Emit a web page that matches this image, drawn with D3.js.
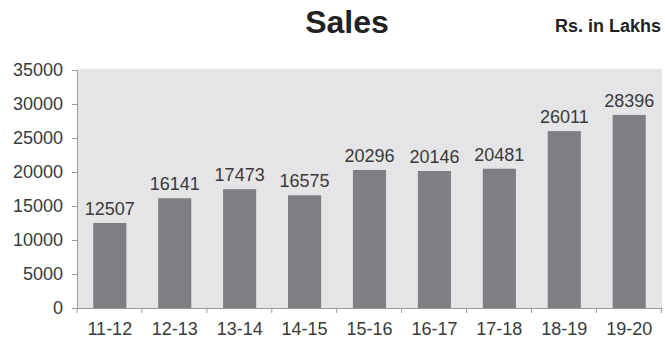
<!DOCTYPE html>
<html>
<head>
<meta charset="utf-8">
<script src="https://cdn.jsdelivr.net/npm/d3@7"></script>
<style>
  body { margin: 0; background: #fff; }
  text { font-family: "Liberation Sans", Arial, sans-serif; }
</style>
</head>
<body>
<svg id="chart" width="665" height="345"></svg>
<script>
// chart data
const years = ["11-12", "12-13", "13-14", "14-15", "15-16", "16-17", "17-18", "18-19", "19-20"];
const sales = [12507, 16141, 17473, 16575, 20296, 20146, 20481, 26011, 28396];
const yTicks = [0, 5000, 10000, 15000, 20000, 25000, 30000, 35000];

const svg = d3.select("#chart");
const margin = { top: 70, right: 3, bottom: 37, left: 77 };
const width = 665 - margin.left - margin.right;
const height = 345 - margin.top - margin.bottom;

const x = d3.scaleBand()
    .domain(years)
    .range([0, width])
    .paddingInner(0.49)
    .paddingOuter(0.25);

const y = d3.scaleLinear()
    .domain([0, 35000])
    .range([height, 0]);

const g = svg.append("g")
    .attr("transform", `translate(${margin.left},${margin.top})`);

// plot background
g.append("rect")
    .attr("x", 0)
    .attr("y", -1)
    .attr("width", width)
    .attr("height", height + 1)
    .attr("fill", "#e5e5e7");

// bars
g.selectAll("rect.bar")
    .data(sales)
    .enter()
    .append("rect")
    .attr("class", "bar")
    .attr("x", (d, i) => x(years[i]))
    .attr("y", d => y(d))
    .attr("width", x.bandwidth())
    .attr("height", d => height - y(d))
    .attr("fill", "#7f7f83");

// value labels
g.selectAll("text.val")
    .data(sales)
    .enter()
    .append("text")
    .attr("class", "val")
    .attr("x", (d, i) => x(years[i]) + x.bandwidth() / 2)
    .attr("y", d => y(d) - 8)
    .attr("text-anchor", "middle")
    .attr("font-size", 18)
    .attr("fill", "#3a3a3a")
    .text(d => d);

// y axis
const yAxis = g.append("g")
    .call(d3.axisLeft(y).tickValues(yTicks).tickSize(5).tickPadding(9).tickFormat(d3.format("d")));
yAxis.selectAll("text").attr("font-size", 18).attr("fill", "#3a3a3a");
yAxis.selectAll("line, path").attr("stroke", "#9a9a9a");

// x axis, ticks at band edges
const xAxis = g.append("g")
    .attr("transform", `translate(0,${height})`)
    .call(d3.axisBottom(x).tickSize(0).tickPadding(14));
xAxis.selectAll("text").attr("font-size", 18).attr("fill", "#3a3a3a");
xAxis.select("path").attr("stroke", "#9a9a9a");
xAxis.selectAll("line.edge")
    .data(years.concat(["end"]))
    .enter()
    .append("line")
    .attr("class", "edge")
    .attr("x1", (d, i) => i * x.step())
    .attr("x2", (d, i) => i * x.step())
    .attr("y1", 0)
    .attr("y2", 5)
    .attr("stroke", "#9a9a9a");

// titles
svg.append("text")
    .attr("x", 347)
    .attr("y", 33)
    .attr("text-anchor", "middle")
    .attr("font-size", 32)
    .attr("font-weight", "bold")
    .attr("fill", "#222")
    .text("Sales");

svg.append("text")
    .attr("x", 661)
    .attr("y", 32)
    .attr("text-anchor", "end")
    .attr("font-size", 18)
    .attr("font-weight", "bold")
    .attr("fill", "#222")
    .text("Rs. in Lakhs");
</script>
</body>
</html>
